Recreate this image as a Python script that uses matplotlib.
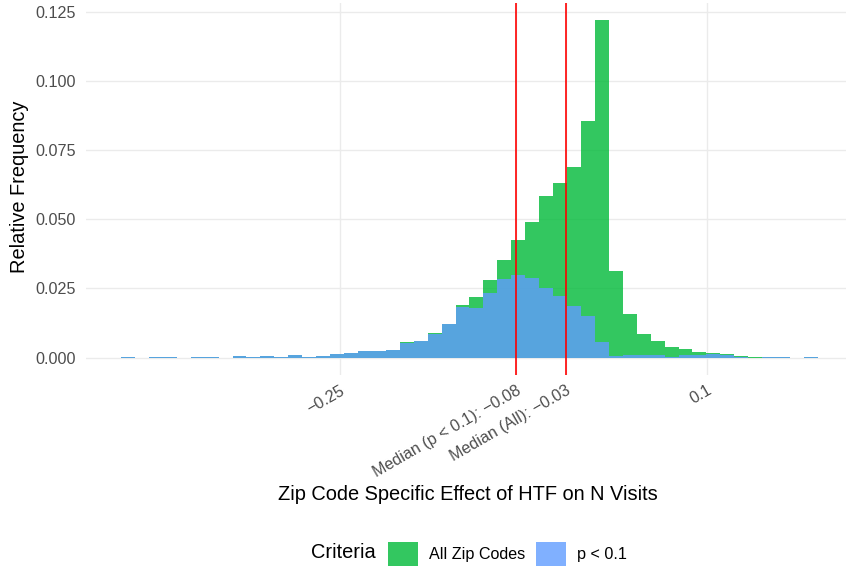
import matplotlib
matplotlib.use("Agg")
import matplotlib.pyplot as plt
from matplotlib.patches import Patch
import numpy as np

plt.rcParams['font.family'] = ['Liberation Sans', 'DejaVu Sans']

# histogram bins (50 equal bins over the full range of estimates)
bin_lo = -0.4590
bin_hi = 0.2062
n_bins = 50

# relative frequency per bin
all_zip = [0.0003, 0.0, 0.0003, 0.0003, 0.0, 0.0003, 0.0003, 0.0, 0.0005, 0.0003,
           0.0005, 0.0003, 0.0008, 0.0003, 0.0005, 0.0013, 0.0017, 0.0025, 0.0025, 0.0029,
           0.0058, 0.0061, 0.0088, 0.0123, 0.0190, 0.0220, 0.0280, 0.0353, 0.0425, 0.0490,
           0.0584, 0.0631, 0.0689, 0.0854, 0.1219, 0.0312, 0.0157, 0.0084, 0.0059, 0.0037,
           0.0030, 0.0019, 0.0016, 0.0012, 0.0005, 0.0003, 0.0003, 0.0003, 0.0, 0.0003]
p_sig = [0.0003, 0.0, 0.0003, 0.0003, 0.0, 0.0003, 0.0003, 0.0, 0.0005, 0.0003,
         0.0005, 0.0003, 0.0008, 0.0003, 0.0005, 0.0013, 0.0017, 0.0025, 0.0025, 0.0029,
         0.0054, 0.0061, 0.0085, 0.0120, 0.0183, 0.0180, 0.0233, 0.0284, 0.0297, 0.0289,
         0.0252, 0.0223, 0.0187, 0.0151, 0.0057, 0.0007, 0.0009, 0.0008, 0.0008, 0.0003,
         0.0008, 0.0008, 0.0014, 0.0008, 0.0003, 0.0, 0.0003, 0.0003, 0.0, 0.0003]

med_sig = -0.0823
med_all = -0.0346

y_breaks = [0.0, 0.025, 0.05, 0.075, 0.1, 0.125]

col_all = "#00BA38"
col_sig = "#619CFF"
txt_col = "#4D4D4D"
grid_col = "#EBEBEB"

fs_axis = 11.6
fs_title = 14.4


def fmt(v):
    return "{:.2f}".format(v).replace("-", "\u2212")


x_breaks = [-0.25, med_sig, med_all, 0.1]
x_labels = ["\u22120.25",
            "Median (p < 0.1): " + fmt(med_sig),
            "Median (All): " + fmt(med_all),
            "0.1"]

W, H = 846, 569
fig = plt.figure(figsize=(W / 100, H / 100), dpi=100)
ax = fig.add_axes([86 / W, 1 - 374.5 / H, (W - 86) / W, 371.2 / H])

edges = np.linspace(bin_lo, bin_hi, n_bins + 1)
width = edges[1] - edges[0]
ax.bar(edges[:-1], all_zip, width=width, align='edge', color=col_all, alpha=0.8,
       linewidth=0, zorder=2)
ax.bar(edges[:-1], p_sig, width=width, align='edge', color=col_sig, alpha=0.8,
       linewidth=0, zorder=3)

ax.axvline(med_sig, color='red', lw=1.2, zorder=4)
ax.axvline(med_all, color='red', lw=1.2, zorder=4)

ax.set_xlim(-0.4924, 0.233)
ax.set_ylim(-0.0061, 0.128)

ax.set_xticks(x_breaks)
ax.set_xticklabels(x_labels, rotation=30, ha='right', va='top',
                   rotation_mode='anchor', fontsize=fs_axis, color=txt_col)
ax.set_yticks(y_breaks)
ax.set_yticklabels(["{:.3f}".format(v) for v in y_breaks], fontsize=fs_axis, color=txt_col)
ax.tick_params(axis='both', length=0)
ax.tick_params(axis='y', pad=7.5)
ax.tick_params(axis='x', pad=6)

ax.grid(True, color=grid_col, lw=1.0, zorder=0)
ax.set_axisbelow(True)
for s in ax.spines.values():
    s.set_visible(False)

ax.set_xlabel("Zip Code Specific Effect of HTF on N Visits", fontsize=fs_title, color='black')
ax.xaxis.set_label_coords(0.503, -0.298)
ax.set_ylabel("Relative Frequency", fontsize=fs_title, color='black')
ax.yaxis.set_label_coords(-0.0755, 0.505)

# legend along the bottom, title to the left of the keys
fig.text(311 / W, 1 - 553 / H, "Criteria", fontsize=fs_title, va='center', ha='left')
handles = [Patch(facecolor=col_all, alpha=0.8, linewidth=0),
           Patch(facecolor=col_sig, alpha=0.8, linewidth=0)]
fig.legend(handles, ["All Zip Codes", "p < 0.1"], loc='center left',
           bbox_to_anchor=(388 / W, 1 - 554 / H), ncol=2, frameon=False,
           fontsize=fs_axis, handlelength=30 / 16.1, handleheight=30 / 16.1,
           handletextpad=0.68, columnspacing=0.68, borderpad=0, borderaxespad=0)

fig.savefig("out.png", dpi=100)
